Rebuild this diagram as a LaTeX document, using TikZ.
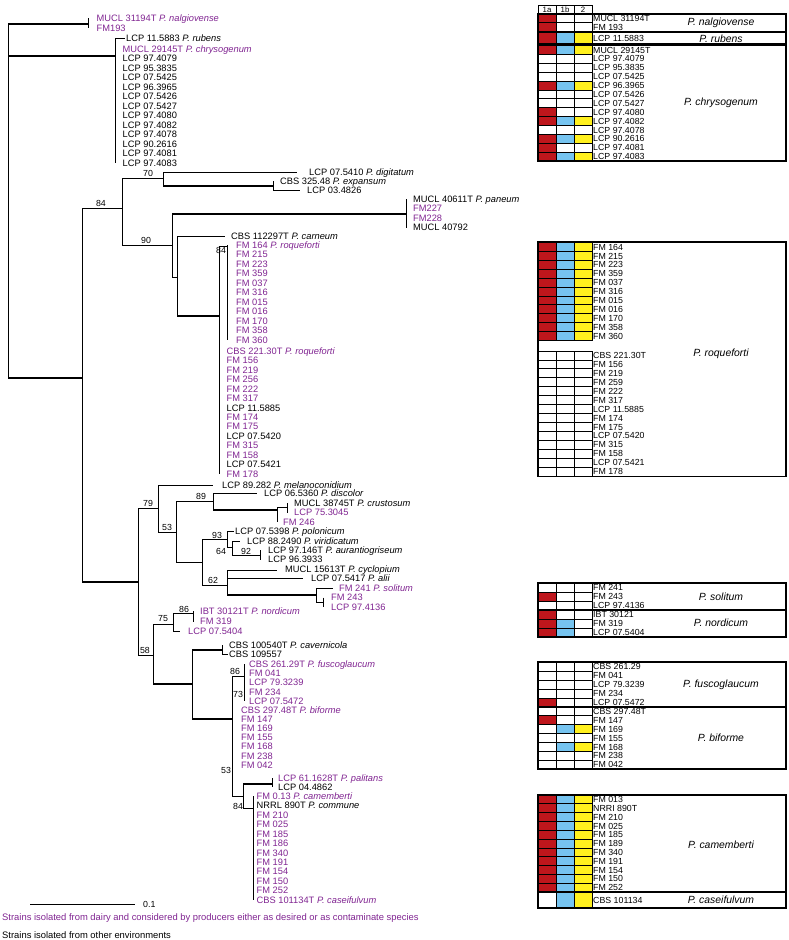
\documentclass[tikz,border=0pt]{standalone}
\usepackage{fontspec}
\setmainfont{Liberation Sans}
\definecolor{dairy}{RGB}{128,36,145}
\definecolor{cr}{RGB}{190,22,28}
\definecolor{cb}{RGB}{118,196,240}
\definecolor{cy}{RGB}{255,240,30}
\newcommand\cl[2]{\draw[br] (#1) |- (#2);}
\newcommand\ck[2]{\draw[br] (#1) -- (#1 |- #2); \draw[thk] (#1 |- #2) -- (#2);}
\newcommand\vt[3]{\draw[br] (#1 |- #2) -- (#1 |- #3);}
\newcommand\tgroup[4]{%
  \foreach \nm/\ka/\kb/\kc [count=\i from 0] in {#4} {
    \pgfmathsetmacro\yy{#2+\i*#3}
    \filldraw[cell,fill=\ka] (538,\yy) rectangle ++(18,#3);
    \filldraw[cell,fill=\kb] (556,\yy) rectangle ++(18,#3);
    \filldraw[cell,fill=\kc] (574,\yy) rectangle ++(18,#3);
    \node[tx] (#1-\i) at (593,\yy+#3/2) {\nm};
  }}
\begin{document}
\begin{tikzpicture}[x=1pt,y=-1pt,
 br/.style={line width=0.85pt},
 thk/.style={line width=2.7pt},
 lf/.style={anchor=west,inner sep=1pt,font=\fontsize{9.3}{10}\selectfont,text height=6.6pt,text depth=0pt},
 lfp/.style={lf,text=dairy},
 bs/.style={font=\fontsize{8.8}{9}\selectfont,inner sep=0pt},
 tx/.style={anchor=west,inner sep=0pt,font=\fontsize{8.8}{9}\selectfont,text height=6.3pt,text depth=0pt},
 sp/.style={font=\fontsize{10.4}{11}\selectfont\itshape,inner sep=0pt},
 cell/.style={draw=black,line width=0.8pt},
 grp/.style={draw=black,line width=1.1pt},
 hd/.style={font=\fontsize{7.8}{8}\selectfont,inner sep=0pt},
 lg/.style={anchor=west,inner sep=0pt,font=\fontsize{9.4}{10}\selectfont},
]
\useasboundingbox (0,0) rectangle (788,940);

% ---------- internal nodes ----------
\coordinate (R0) at (8,200);
\coordinate (nalN) at (88,24);
\coordinate (chrN) at (115,56);
\coordinate (A) at (82,378);
\coordinate (B) at (122,208);
\coordinate (C) at (163,178);
\coordinate (Ex) at (273,186);
\coordinate (D) at (172,245);
\coordinate (Pa) at (406,214);
\coordinate (E) at (177,277);
\coordinate (F) at (219,316);
\coordinate (Rq) at (227,246);
\coordinate (G) at (138,582);
\coordinate (I) at (158,508);
\coordinate (J) at (176,532);
\coordinate (K) at (213,501);
\coordinate (L) at (277,510);
\coordinate (M) at (287,507);
\coordinate (N) at (202,562);
\coordinate (O) at (227,539);
\coordinate (P) at (232,547);
\coordinate (Q) at (260,555);
\coordinate (Rn) at (227,585);
\coordinate (S) at (316,595);
\coordinate (T) at (323,602);
\coordinate (H) at (153,655);
\coordinate (U) at (173,624);
\coordinate (V) at (193,613);
\coordinate (W) at (192,684);
\coordinate (X) at (222,650);
\coordinate (Y) at (232,719);
\coordinate (Fu) at (244,676);
\coordinate (Z) at (243,796);
\coordinate (Pl) at (272,784);
\coordinate (AA) at (253.5,808);
% free ends of leaf branches
\coordinate (digE) at (297,172);
\coordinate (e034E) at (300,190);
\coordinate (carE) at (225,236);
\coordinate (melE) at (213,485);
\coordinate (disE) at (257,493);
\coordinate (virE) at (240,541);
\coordinate (cycE) at (277,570);
\coordinate (aliE) at (303,578);
\coordinate (solE) at (333,588);
\coordinate (n54E) at (180,631);

% ---------- leaves ----------
\node[lfp] (nal1) at (95.5,18) {MUCL 31194T \textit{P. nalgiovense}};
\node[lfp] (nal2) at (95.5,28) {FM193};
\node[lf] (rub) at (125,38.5) {LCP 11.5883 \textit{P. rubens}};
\node[lfp] (ch0) at (121.5,49) {MUCL 29145T \textit{P. chrysogenum}};
\foreach \t [count=\i] in {97.4079,95.3835,07.5425,96.3965,07.5426,07.5427,97.4080,97.4082,97.4078,90.2616,97.4081,97.4083}
  \node[lf] (ch\i) at (121.5,49+\i*9.5) {LCP \t};
\node[lf] (dig) at (308,172) {LCP 07.5410 \textit{P. digitatum}};
\node[lf] (exp) at (279,181) {CBS 325.48 \textit{P. expansum}};
\node[lf] (e034) at (306,190) {LCP 03.4826};
\node[lf] (pan1) at (412,199) {MUCL 40611T \textit{P. paneum}};
\node[lfp] (pan2) at (412,208.5) {FM227};
\node[lfp] (pan3) at (412,218) {FM228};
\node[lf] (pan4) at (412,227.5) {MUCL 40792};
\node[lf] (car) at (230,236) {CBS 112297T \textit{P. carneum}};
\foreach \t [count=\i] in {FM 164 \textit{P. roqueforti},FM 215,FM 223,FM 359,FM 037,FM 316,FM 015,FM 016,FM 170,FM 358,FM 360}
  \node[lfp] (r\i) at (235,235.5+\i*9.5) {\t};
\foreach \t/\c [count=\i] in {CBS 221.30T \textit{P. roqueforti}/dairy,FM 156/dairy,FM 219/dairy,FM 256/dairy,FM 222/dairy,FM 317/dairy,LCP 11.5885/black,FM 174/dairy,FM 175/dairy,LCP 07.5420/black,FM 315/dairy,FM 158/dairy,LCP 07.5421/black,FM 178/dairy}
  \node[lf,text=\c] (q\i) at (225.5,341.5+\i*9.46) {\t};
\node[lf] (mel) at (221,485) {LCP 89.282 \textit{P. melanoconidium}};
\node[lf] (dis) at (263,493) {LCP 06.5360 \textit{P. discolor}};
\node[lf] (cru) at (293,503) {MUCL 38745T \textit{P. crustosum}};
\node[lfp] (l753) at (293,512.5) {LCP 75.3045};
\node[lfp] (f246) at (282,522) {FM 246};
\node[lf] (pol) at (234,531) {LCP 07.5398 \textit{P. polonicum}};
\node[lf] (vir) at (246,541) {LCP 88.2490 \textit{P. viridicatum}};
\node[lf] (aur) at (267,550) {LCP 97.146T \textit{P. aurantiogriseum}};
\node[lf] (l963) at (267,559.5) {LCP 96.3933};
\node[lf] (cyc) at (284,569.5) {MUCL 15613T \textit{P. cyclopium}};
\node[lf] (ali) at (310,578) {LCP 07.5417 \textit{P. alii}};
\node[lfp] (sol) at (338,588) {FM 241 \textit{P. solitum}};
\node[lfp] (s243) at (330,597.5) {FM 243};
\node[lfp] (s4136) at (330,607) {LCP 97.4136};
\node[lfp] (ibt) at (199,611) {IBT 30121T \textit{P. nordicum}};
\node[lfp] (n319) at (199,621.5) {FM 319};
\node[lfp] (n54) at (187,631) {LCP 07.5404};
\node[lf] (cav) at (228,645) {CBS 100540T \textit{P. cavernicola}};
\node[lf] (c1095) at (228,654) {CBS 109557};
\foreach \t [count=\i] in {CBS 261.29T \textit{P. fuscoglaucum},FM 041,LCP 79.3239,FM 234,LCP 07.5472}
  \node[lfp] (f\i) at (248,654.75+\i*9.25) {\t};
\foreach \t [count=\i] in {CBS 297.48T \textit{P. biforme},FM 147,FM 169,FM 155,FM 168,FM 238,FM 042}
  \node[lfp] (b\i) at (240,700.8+\i*9.17) {\t};
\node[lfp] (pal1) at (277,778) {LCP 61.1628T \textit{P. palitans}};
\node[lf] (pal2) at (277,787) {LCP 04.4862};
\foreach \t/\c [count=\i] in {FM 0.13 \textit{P. camemberti}/dairy,NRRL 890T \textit{P. commune}/black,FM 210/dairy,FM 025/dairy,FM 185/dairy,FM 186/dairy,FM 340/dairy,FM 191/dairy,FM 154/dairy,FM 150/dairy,FM 252/dairy,CBS 101134T \textit{P. caseifulvum}/dairy}
  \node[lf,text=\c] (c\i) at (255.5,786.55+\i*9.45) {\t};

% ---------- branches ----------
\draw[br] (R0 |- nalN) -- (R0 |- A);
\draw[thk] (R0 |- nalN) -- (nalN);
\draw[thk] (R0 |- chrN) -- (chrN);
\draw[thk] (R0 |- A) -- (A);
\vt{nalN}{nal1.west}{nal2.west}
\cl{chrN}{rub.west}
\vt{chrN}{ch0.west}{ch12.west}
\cl{A}{B}
\ck{A}{G}
\cl{B}{C}
\cl{B}{D}
\cl{C}{digE}
\ck{C}{Ex}
\vt{Ex}{exp.west}{e034E}
\draw[br] (Ex |- e034E) -- (e034E);
\ck{D}{Pa}
\cl{D}{E}
\vt{Pa}{pan1.west}{pan4.west}
\cl{E}{carE}
\ck{E}{F}
\cl{F}{Rq}
\vt{F}{Rq}{q14.west}
\vt{Rq}{r1.west}{r11.west}
\cl{G}{I}
\cl{G}{H}
\cl{I}{melE}
\cl{I}{J}
\cl{J}{K}
\cl{J}{N}
\cl{K}{disE}
\ck{K}{L}
\cl{L}{M}
\vt{L}{L}{f246.west}
\vt{M}{cru.west}{l753.west}
\cl{N}{O}
\cl{N}{Rn}
\cl{O}{pol.west}
\cl{O}{P}
\cl{P}{virE}
\cl{P}{Q}
\vt{Q}{aur.west}{l963.west}
\cl{Rn}{cycE}
\cl{Rn}{aliE}
\ck{Rn}{S}
\cl{S}{solE}
\cl{S}{T}
\vt{T}{s243.west}{s4136.west}
\cl{H}{U}
\ck{H}{W}
\cl{U}{V}
\cl{U}{n54E}
\vt{V}{ibt.west}{n319.west}
\ck{W}{X}
\ck{W}{Y}
\vt{X}{cav.west}{c1095.west}
\draw[br] (X |- c1095.west) -- (c1095.west);
\cl{Y}{Fu}
\cl{Y}{Z}
\vt{Fu}{f1.west}{f5.west}
\cl{Z}{AA}
\ck{Z}{Pl}
\vt{Pl}{pal1.west}{pal2.west}
\vt{AA}{c1.west}{c12.west}

% ---------- bootstrap values ----------
\node[bs] (bs1) at (101,203) {84};
\node[bs] (bs2) at (148,173) {70};
\node[bs] (bs3) at (146,240) {90};
\node[bs] (bs4) at (221,250) {84};
\node[bs] (bs5) at (148,503) {79};
\node[bs] (bs6) at (167,527) {53};
\node[bs] (bs7) at (201,496) {89};
\node[bs] (bs8) at (217,535) {93};
\node[bs] (bs9) at (221,551) {64};
\node[bs] (bs10) at (246,551) {92};
\node[bs] (bs11) at (213,580) {62};
\node[bs] (bs12) at (163,619) {75};
\node[bs] (bs13) at (184,609) {86};
\node[bs] (bs14) at (145,650) {58};
\node[bs] (bs15) at (235,671) {86};
\node[bs] (bs16) at (238,694) {73};
\node[bs] (bs17) at (226,770) {53};
\node[bs] (bs18) at (238,806) {84};

% ---------- scale bar and legend ----------
\coordinate (sb1) at (30,904);
\coordinate (sb2) at (135,904);
\draw[br] (sb1) -- (sb2);
\node[bs,anchor=west] (sbl) at (143,904) {0.1};
\node[lg,text=dairy] (leg1) at (2,918) {Strains isolated from dairy and considered by producers either as desired or as contaminate species};
\node[lg] (leg2) at (2,935) {Strains isolated from other environments};

% ---------- table ----------
\foreach \h/\x in {1a/547,1b/565,2/583} {
  \draw[cell] (\x-9,5) rectangle (\x+9,14);
  \node[hd] (h\h) at (\x,9.7) {\h};
}
\tgroup{nal}{14}{8.75}{MUCL 31194T/cr/white/white,FM 193/cr/white/white}
\draw[grp] (538,14) rectangle (786,31.5);
\node[sp] (spnal) at (721,23) {P. nalgiovense};
\tgroup{rub}{32.5}{11.5}{LCP 11.5883/cr/cb/cy}
\draw[grp] (538,32.5) rectangle (786,44);
\node[sp] (sprub) at (721,39) {P. rubens};
\tgroup{chr}{45.5}{8.88}{MUCL 29145T/cr/cb/cy,LCP 97.4079/white/white/white,LCP 95.3835/white/white/white,LCP 07.5425/white/white/white,LCP 96.3965/cr/cb/cy,LCP 07.5426/white/white/white,LCP 07.5427/white/white/white,LCP 97.4080/cr/white/white,LCP 97.4082/cr/cb/cy,LCP 97.4078/white/white/white,LCP 90.2616/cr/cb/cy,LCP 97.4081/cr/white/white,LCP 97.4083/cr/cb/cy}
\draw[grp] (538,45.5) rectangle (786,161);
\node[sp] (spchr) at (721,103) {P. chrysogenum};
\tgroup{rqa}{242.5}{8.9}{FM 164/cr/cb/cy,FM 215/cr/cb/cy,FM 223/cr/cb/cy,FM 359/cr/cb/cy,FM 037/cr/cb/cy,FM 316/cr/cb/cy,FM 015/cr/cb/cy,FM 016/cr/cb/cy,FM 170/cr/cb/cy,FM 358/cr/cb/cy,FM 360/cr/cb/cy}
\tgroup{rqb}{351}{8.93}{CBS 221.30T/white/white/white,FM 156/white/white/white,FM 219/white/white/white,FM 259/white/white/white,FM 222/white/white/white,FM 317/white/white/white,LCP 11.5885/white/white/white,FM 174/white/white/white,FM 175/white/white/white,LCP 07.5420/white/white/white,FM 315/white/white/white,FM 158/white/white/white,LCP 07.5421/white/white/white,FM 178/white/white/white}
\draw[grp] (538,242) rectangle (786,476.5);
\node[sp] (sprq) at (721,354) {P. roqueforti};
\tgroup{sol}{583}{9}{FM 241/white/white/white,FM 243/cr/white/white,LCP 97.4136/white/white/white}
\draw[grp] (538,583) rectangle (786,610);
\node[sp] (spsol) at (721,597) {P. solitum};
\tgroup{nor}{610}{9}{IBT 30121/cr/white/white,FM 319/cr/cb/white,LCP 07.5404/cr/cb/white}
\draw[grp] (538,610) rectangle (786,637);
\node[sp] (spnor) at (721,623) {P. nordicum};
\tgroup{fus}{662}{9}{CBS 261.29/white/white/white,FM 041/white/white/white,LCP 79.3239/white/white/white,FM 234/white/white/white,LCP 07.5472/cr/white/white}
\draw[grp] (538,662) rectangle (786,707);
\node[sp] (spfus) at (721,685) {P. fuscoglaucum};
\tgroup{bif}{707}{8.86}{CBS 297.48T/white/white/white,FM 147/cr/white/white,FM 169/white/cb/cy,FM 155/white/white/white,FM 168/white/cb/cy,FM 238/white/white/white,FM 042/white/white/white}
\draw[grp] (538,707) rectangle (786,769);
\node[sp] (spbif) at (721,738) {P. biforme};
\tgroup{cam}{795}{8.82}{FM 013/cr/cb/cy,NRRI 890T/cr/cb/cy,FM 210/cr/cb/cy,FM 025/cr/cb/cy,FM 185/cr/cb/cy,FM 189/cr/cb/cy,FM 340/cr/cb/cy,FM 191/cr/cb/cy,FM 154/cr/cb/cy,FM 150/cr/cb/cy,FM 252/cr/cb/cy}
\draw[grp] (538,795) rectangle (786,892);
\node[sp] (spcam) at (721,845) {P. camemberti};
\tgroup{cas}{892}{16}{CBS 101134/white/cb/cy}
\draw[grp] (538,892) rectangle (786,908);
\node[sp] (spcas) at (721,900) {P. caseifulvum};
\end{tikzpicture}
\end{document}
